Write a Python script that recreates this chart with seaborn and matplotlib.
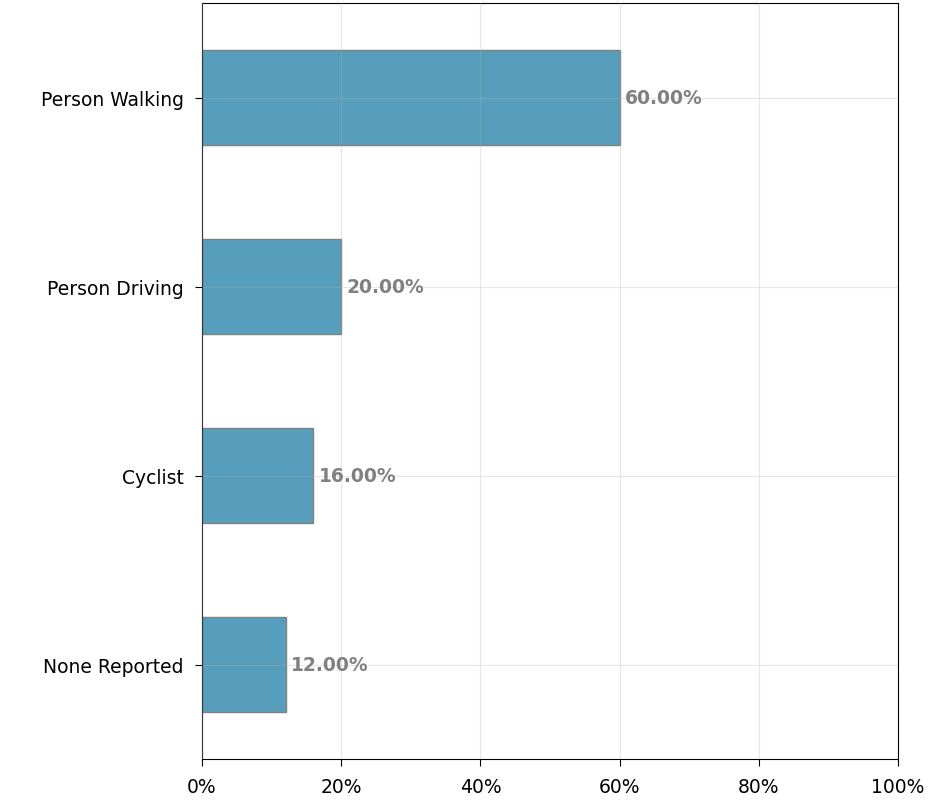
import pandas as pd
import matplotlib.pyplot as plt
import seaborn as sns
from matplotlib.ticker import PercentFormatter

plt.rcParams['font.family'] = 'DejaVu Sans'

# Share of reports by category
categories = ['Person Walking', 'Person Driving', 'Cyclist', 'None Reported']
shares = [60.0, 20.0, 16.0, 12.0]

df = pd.DataFrame({'category': categories, 'share': shares})

fig = plt.figure(figsize=(9.36, 8.03), dpi=100)
ax = fig.add_axes([0.2158, 0.0535, 0.7436, 0.9415])

sns.barplot(data=df, x='share', y='category', color='#579ebd', saturation=1,
            width=0.5, edgecolor='grey', linewidth=1, ax=ax)

# Value labels
for c in ax.containers:
    ax.bar_label(c, labels=[f'{v:.2f}%' for v in c.datavalues], padding=4,
                 color='grey', fontweight='bold', fontsize=13.5)

ax.set_xlim(0, 100)
ax.xaxis.set_major_formatter(PercentFormatter(decimals=0))
ax.grid(True, alpha=0.3)
ax.set_axisbelow(False)
ax.set_xlabel('')
ax.set_ylabel('')
ax.tick_params(labelsize=13.5, length=5)
ax.tick_params(axis='y', pad=8)
ax.tick_params(axis='x', pad=8)

fig.savefig('out.png', dpi=100)
